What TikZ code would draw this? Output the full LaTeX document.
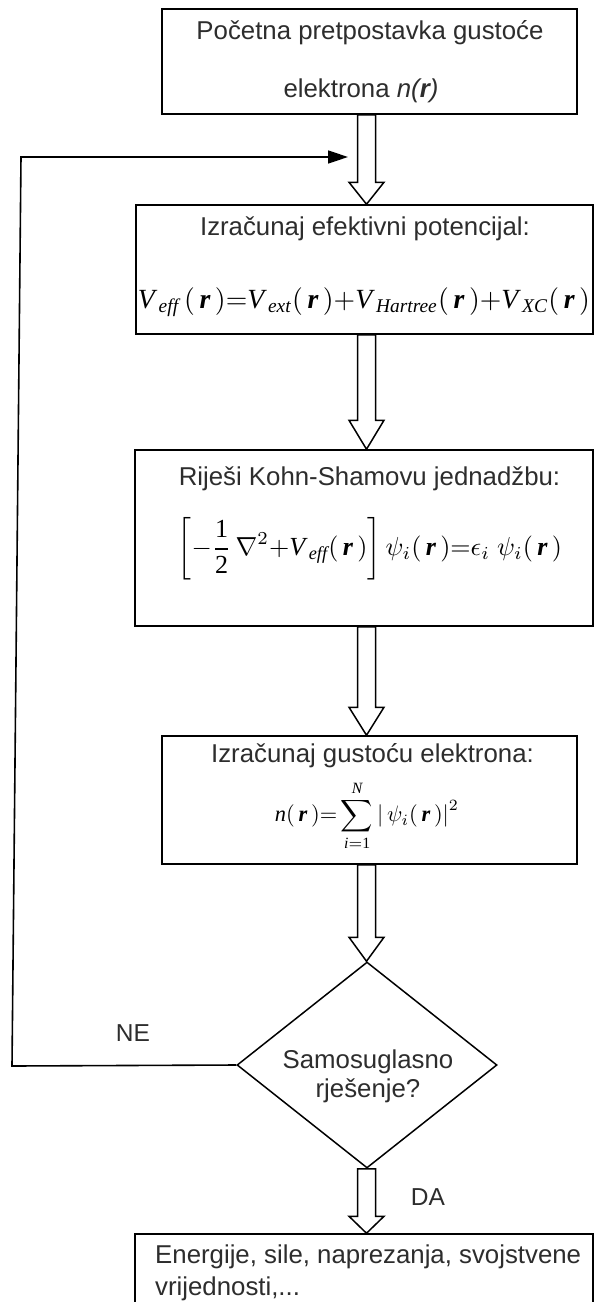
\documentclass[tikz,border=0pt]{standalone}
\usepackage[no-math]{fontspec}
\usepackage{amsmath}
\setmainfont{Liberation Sans}
\newfontfamily\tms{Liberation Serif}
\usetikzlibrary{shapes.geometric,calc,arrows.meta}
\definecolor{txt}{RGB}{45,45,45}
\newcommand{\ti}[1]{\text{\tms\itshape #1}}
\newcommand{\tb}{\text{\tms\bfseries\itshape r}}
\newcommand{\tn}[1]{\text{\tms #1}}
\newcommand{\blockarr}[3]{%
  \draw[barrow] let \p1=(#1), \p2=(#2) in
    (357.5pt,\y1) -- (357.5pt,\y2+#3) -- (349pt,\y2+#3) -- (366.5pt,\y2)
    -- (384pt,\y2+#3) -- (375.5pt,\y2+#3) -- (375.5pt,\y1) -- cycle;}
\tikzset{
  box/.style={draw=black, line width=1.5pt, rectangle, inner sep=0pt, fill=white},
  dia/.style={draw=black, line width=1.5pt, diamond, aspect=1.26, inner sep=0pt, fill=white},
  barrow/.style={draw=black, line width=1.5pt, fill=white, line join=miter},
  feed/.style={draw=black, line width=1.6pt, -{Triangle[length=20pt,width=13pt]}},
  txtn/.style={inner sep=0pt, text=txt, font=\fontsize{25.8}{30}\selectfont},
  lbl/.style={inner sep=0pt, text=txt, font=\fontsize{24.5}{30}\selectfont},
  frm/.style={inner sep=0pt, text=black},
}
\begin{document}
\begin{tikzpicture}[x=1pt,y=-1pt]
\useasboundingbox (0,0) rectangle (595,1302);
\fill[white] (0,0) rectangle (595,1302);

% boxes
\node[box, minimum width=415pt, minimum height=105pt] (b1) at (369.5,61.5) {};
\node[box, minimum width=457pt, minimum height=129pt] (b2) at (364.5,269.5) {};
\node[box, minimum width=458pt, minimum height=176pt] (b3) at (364,538) {};
\node[box, minimum width=415pt, minimum height=128pt] (b4) at (369.5,800) {};
\node[dia, minimum width=260pt, minimum height=206pt] (d) at (367,1065) {};
\node[box, minimum width=458pt, minimum height=110pt] (b5) at (364,1289) {};

% texts
\node[txtn, anchor=base] (t1a) at (370,39) {Početna pretpostavka gustoće};
\node[txtn, anchor=base] (t1b) at (361,97) {elektrona \textit{n(\textbf{r})}};
\node[txtn, anchor=base] (t2) at (365,235) {Izračunaj efektivni potencijal:};
\node[frm] (f2) at (364,302) {\resizebox{452pt}{!}{$\ti{V}_{\,\ti{eff}}\,(\,\tb\,)\mathord{=}\ti{V}_{\,\ti{ext}}(\,\tb\,)\mathord{+}\ti{V}_{\,\ti{Hartree}}(\,\tb\,)\mathord{+}\ti{V}_{\,\ti{XC}}(\,\tb\,)$}};
\node[txtn, anchor=base] (t3) at (369.5,485) {Riješi Kohn-Shamovu jednadžbu:};
\node[frm] (f3) at (370,549) {\resizebox{384pt}{!}{$\displaystyle\left[-\frac{\tn{1}}{\tn{2}}\,\nabla^{2}\mathord{+}\ti{V}_{\,\ti{eff}}(\,\tb\,)\right]\psi_{i}(\,\tb\,)\mathord{=}\epsilon_{i}\;\psi_{i}(\,\tb\,)$}};
\node[txtn, anchor=base] (t4) at (372.5,762) {Izračunaj gustoću elektrona:};
\node[frm] (f4) at (367,816) {\resizebox{184pt}{!}{$\displaystyle\ti{n}(\,\tb\,)\mathord{=}\sum_{\ti{i}=\tn{1}}^{\ti{N}}\left|\,\psi_{i}(\,\tb\,)\right|^{2}$}};
\node[txtn, anchor=base] (td1) at (368,1068) {Samosuglasno};
\node[txtn, anchor=base] (td2) at (368,1097) {rješenje?};
\node[lbl, anchor=base] (ne) at (133,1041) {NE};
\node[lbl, anchor=base] (da) at (428,1205) {DA};
\node[txtn, anchor=base west] (t5a) at (155,1263) {Energije, sile, naprezanja, svojstvene};
\node[txtn, anchor=base west] (t5b) at (155,1295) {vrijednosti,...};

% block arrows
\blockarr{b1.south}{b2.north}{22pt}
\blockarr{b2.south}{b3.north}{29pt}
\blockarr{b3.south}{b4.north}{28pt}
\blockarr{b4.south}{d.north}{24pt}
\blockarr{d.south}{b5.north}{17pt}

% feedback line
\coordinate (fbl) at (12,1066);
\coordinate (fbt) at (21,157);
\coordinate (fbe) at (348,157);
\draw[feed] (d.west) -- (fbl) -- (fbt) -- (fbe);
\end{tikzpicture}
\end{document}
